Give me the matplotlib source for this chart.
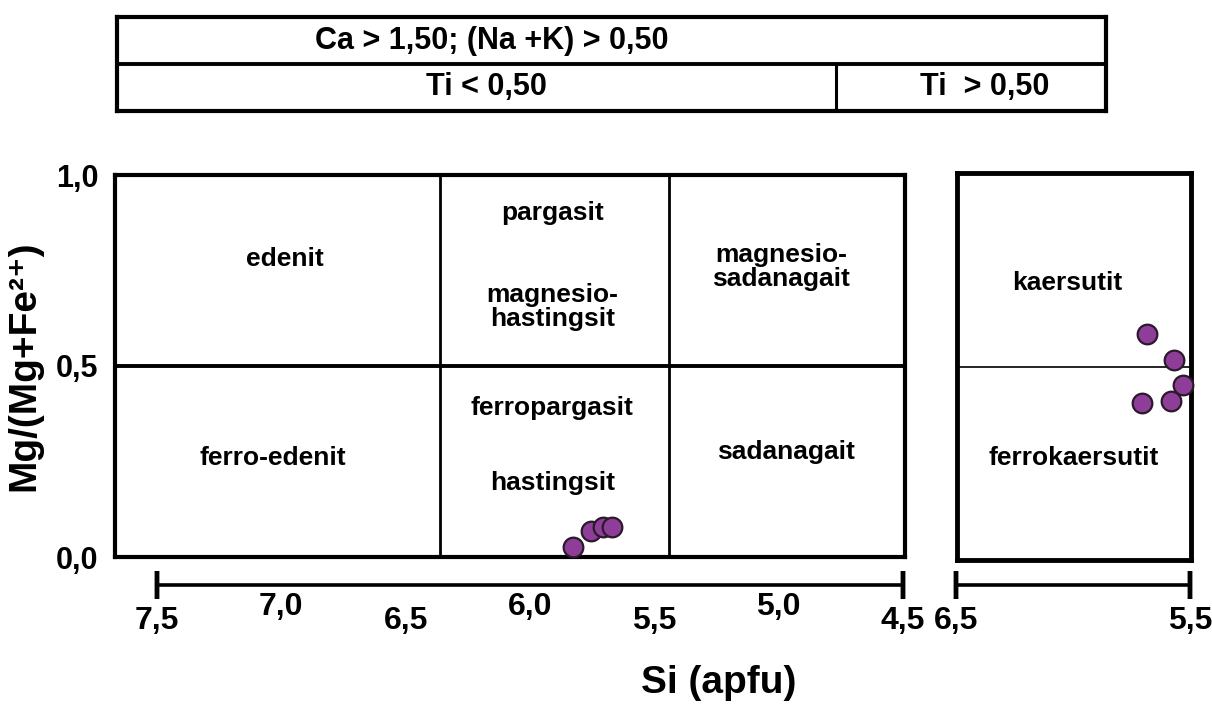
import matplotlib
matplotlib.use("Agg")
import matplotlib.pyplot as plt
from matplotlib import transforms

plt.rcParams['font.family'] = ['Liberation Sans', 'DejaVu Sans']
plt.rcParams['font.weight'] = 'bold'
plt.rcParams['axes.labelweight'] = 'bold'
NARROW = ['Liberation Sans Narrow', 'Liberation Sans', 'DejaVu Sans']

# --- data ---
# Ti < 0,50 panel
si_low_ti = [5.92, 5.84, 5.79, 5.75]
mg_low_ti = [0.026, 0.068, 0.079, 0.079]
# Ti > 0,50 panel
si_high_ti = [5.69, 5.573, 5.534, 5.585, 5.71]
mg_high_ti = [0.585, 0.518, 0.451, 0.41, 0.405]

left_fields = ['edenit', 'ferro-edenit', 'pargasit', 'magnesio-\nhastingsit',
               'ferropargasit', 'hastingsit', 'magnesio-\nsadanagait', 'sadanagait']
left_field_x = [7.18, 7.23, 6.01, 6.01, 6.01, 6.01, 5.01, 4.99]
left_field_y = [0.78, 0.26, 0.90, 0.655, 0.39, 0.195, 0.76, 0.275]

right_fields = ['kaersutit', 'ferrokaersutit']
right_field_x = [6.03, 6.0]
right_field_y = [0.716, 0.263]

si_ticks_left = [7.5, 7.0, 6.5, 6.0, 5.5, 5.0, 4.5]
si_ticks_right = [6.5, 5.5]
mg_ticks = [0.0, 0.5, 1.0]

W, H = 1212, 705


def px_axes(fig, x0, y0, x1, y1):
    return fig.add_axes([x0 / W, 1 - y1 / H, (x1 - x0) / W, (y1 - y0) / H])


def lab(v):
    return f'{v:.1f}'.replace('.', ',')


fig = plt.figure(figsize=(W / 100, H / 100), dpi=100)

# --- header table ---
hd = px_axes(fig, 117, 17, 1106, 111)
hd.set_xlim(0, 1)
hd.set_ylim(0, 1)
hd.set_xticks([])
hd.set_yticks([])
for s in hd.spines.values():
    s.set_linewidth(3)
hd.axhline(0.5, color='black', lw=2.8)
hd.plot([0.727, 0.727], [0, 0.5], color='black', lw=2.2)
hd.text(0.379, 0.75, 'Ca > 1,50; (Na +K) > 0,50', ha='center', va='center',
        fontsize=22, family=NARROW)
hd.text(0.374, 0.25, 'Ti < 0,50', ha='center', va='center', fontsize=22, family=NARROW)
hd.text(0.877, 0.25, 'Ti  > 0,50', ha='center', va='center', fontsize=22, family=NARROW)

# --- Ti < 0,50 box ---
ax = px_axes(fig, 115, 175, 905, 557)
ax.set_xlim(7.92, 4.47)
ax.set_ylim(0, 1)
for s in ax.spines.values():
    s.set_linewidth(3)
ax.axhline(0.5, color='black', lw=2.8)
ax.axvline(6.5, color='black', lw=2)
ax.axvline(5.5, color='black', lw=2)
ax.set_xticks([])
ax.set_yticks(mg_ticks)
ax.set_yticklabels([lab(v) for v in mg_ticks])
ax.tick_params(axis='y', length=0, pad=12, labelsize=22)
for t in ax.get_yticklabels():
    t.set_fontfamily(NARROW)
for name, x, y in zip(left_fields, left_field_x, left_field_y):
    ax.text(x, y, name, ha='center', va='center', fontsize=19, linespacing=1.0)
ax.scatter(si_low_ti, mg_low_ti, s=200, color='#8e3d98', edgecolor='#2b1a2b',
           linewidth=1.6, zorder=5, clip_on=False)
ax.set_ylabel('Mg/(Mg+Fe²⁺)', fontsize=28, labelpad=10)

# --- Ti > 0,50 box ---
ax2 = px_axes(fig, 957, 173, 1191, 560)
ax2.set_xlim(6.5, 5.5)
ax2.set_ylim(0, 1)
for s in ax2.spines.values():
    s.set_linewidth(3.5)
ax2.axhline(0.5, color='black', lw=1.2)
ax2.set_xticks([])
ax2.set_yticks([])
for name, x, y in zip(right_fields, right_field_x, right_field_y):
    ax2.text(x, y, name, ha='center', va='center', fontsize=19)
ax2.scatter(si_high_ti, mg_high_ti, s=200, color='#8e3d98', edgecolor='#2b1a2b',
            linewidth=1.6, zorder=5, clip_on=False)


# --- separate Si scale bars below the boxes ---
def si_bar(x0, x1, ticks):
    b = px_axes(fig, x0, 584, x1, 586)
    b.set_xlim(ticks[0], ticks[-1])
    b.set_ylim(0, 1)
    b.axis('off')
    b.plot([ticks[0], ticks[-1]], [0.5, 0.5], color='black', lw=2.6,
           solid_capstyle='butt', clip_on=False)
    for v in (ticks[0], ticks[-1]):
        b.plot([v, v], [0.5, 0.5], marker='|', markersize=20, markeredgewidth=3.2,
               color='black', clip_on=False)
    for i, v in enumerate(ticks):
        drop = 36 if (i % 2 == 0 or len(ticks) == 2) else 22
        tr = transforms.offset_copy(b.transData, fig=fig, x=0, y=-drop * 0.72, units='points')
        b.text(v, 0.5, lab(v), transform=tr, ha='center', va='center',
               fontsize=23, family=NARROW)


si_bar(157, 903, si_ticks_left)
si_bar(956, 1190, si_ticks_right)

fig.text(719 / W, 1 - 683 / H, 'Si (apfu)', ha='center', va='center', fontsize=28)

fig.savefig('out.png', dpi=100)
